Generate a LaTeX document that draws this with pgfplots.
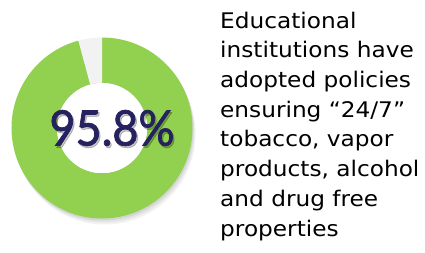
\documentclass[border=0pt]{standalone}
\usepackage{pgfplots}
\pgfplotsset{compat=1.18}
\usepackage{pgfplotstable}
\usepackage{fontspec}
\setmainfont[FakeStretch=1.08]{DejaVu Sans}
\newfontfamily\numfont[FakeStretch=0.92, FakeBold=1.5]{Lato}
\definecolor{donutgreen}{HTML}{92D050}
\definecolor{donutgray}{HTML}{F2F2F2}
\definecolor{numblue}{HTML}{25225F}
\pgfplotstableread{
label value
yes 95.8
no 4.2
}\donutdata
\begin{document}
\begin{tikzpicture}[x=1pt,y=1pt]
\path[use as bounding box] (0,0) rectangle (425,252);
\pgfplotstablegetelem{0}{value}\of\donutdata
\pgfmathsetmacro{\angA}{\pgfplotsretval*3.6}
\pgfmathsetmacro{\endA}{90-\angA}
\pgfplotstablegetelem{1}{value}\of\donutdata
\pgfmathsetmacro{\endB}{90+\pgfplotsretval*3.6}
\begin{axis}[
  at={(11.5pt,33.5pt)}, anchor=south west,
  scale only axis, width=181pt, height=181pt,
  xmin=-1, xmax=1, ymin=-1, ymax=1,
  hide axis, clip=false]
% soft shadow
\fill[black, opacity=0.05, even odd rule]
  ([xshift=3pt, yshift=-6pt]axis cs:0,0) circle[radius=90.5pt]
  ([xshift=3pt, yshift=-6pt]axis cs:0,0) circle[radius=45pt];
\fill[black, opacity=0.06, even odd rule]
  ([xshift=2pt, yshift=-4pt]axis cs:0,0) circle[radius=90.5pt]
  ([xshift=2pt, yshift=-4pt]axis cs:0,0) circle[radius=45pt];
\fill[black, opacity=0.07, even odd rule]
  ([xshift=1pt, yshift=-2pt]axis cs:0,0) circle[radius=90.5pt]
  ([xshift=1pt, yshift=-2pt]axis cs:0,0) circle[radius=45pt];
\fill[donutgreen] (axis cs:0,1) arc[start angle=90, end angle=\endA, radius=90.5pt]
  -- (axis cs:{0.5*cos(\endA)},{0.5*sin(\endA)})
  arc[start angle=\endA, end angle=90, radius=45.25pt] -- cycle;
\fill[donutgray] (axis cs:0,1) arc[start angle=90, end angle=\endB, radius=90.5pt]
  -- (axis cs:{0.5*cos(\endB)},{0.5*sin(\endB)})
  arc[start angle=\endB, end angle=90, radius=45.25pt] -- cycle;
\fill[white] (axis cs:0,0) circle[radius=45pt];
\node[text=black, opacity=0.22, font=\numfont\fontsize{49}{49}\selectfont] at ([xshift=11.5pt, yshift=-2pt]axis cs:0,0) {95.8\%};
\node[text=numblue, font=\numfont\fontsize{49}{49}\selectfont] at ([xshift=10pt]axis cs:0,0) {95.8\%};
\end{axis}
\node[anchor=base west, align=left, inner sep=0pt,
  font=\fontsize{21.5}{29.7}\selectfont] at (220,16)
{Educational\\ institutions have\\ adopted policies\\ ensuring “24/7”\\ tobacco, vapor\\ products, alcohol\\ and drug free\\ properties};
\end{tikzpicture}
\end{document}
